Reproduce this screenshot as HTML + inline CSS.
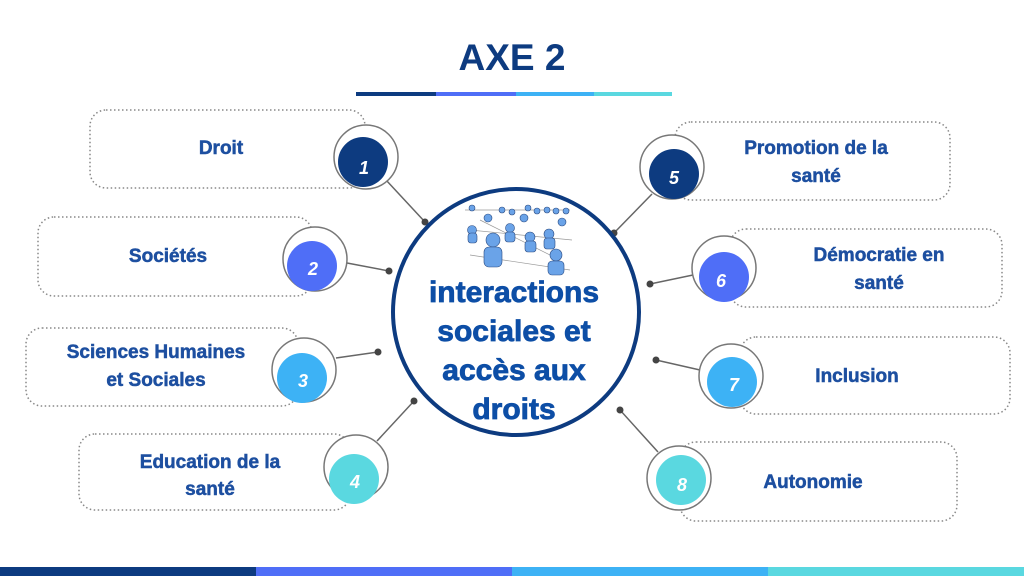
<!DOCTYPE html>
<html><head><meta charset="utf-8"><style>
html,body{margin:0;padding:0;background:#fff;}
svg{display:block;}
text{font-family:"Liberation Sans",sans-serif;font-weight:bold;}
</style></head><body>
<svg width="1024" height="576" viewBox="0 0 1024 576" xmlns="http://www.w3.org/2000/svg">
<text x="512" y="70" text-anchor="middle" font-size="37" fill="#0d3b80">AXE 2</text>
<rect x="356" y="92" width="80" height="4" fill="#0d3b80"/>
<rect x="436" y="92" width="80" height="4" fill="#4f6ef7"/>
<rect x="516" y="92" width="78" height="4" fill="#3db2f5"/>
<rect x="594" y="92" width="78" height="4" fill="#5ad8e0"/>
<rect x="0" y="567" width="256" height="9" fill="#0d3b80"/>
<rect x="256" y="567" width="256" height="9" fill="#4f6ef7"/>
<rect x="512" y="567" width="256" height="9" fill="#3db2f5"/>
<rect x="768" y="567" width="256" height="9" fill="#5ad8e0"/>
<g fill="none" stroke="#888" stroke-width="1.5" stroke-dasharray="1.5 2.5">
<rect x="90" y="110" width="275" height="78" rx="16"/>
<rect x="38" y="217" width="274" height="79" rx="16"/>
<rect x="26" y="328" width="272" height="78" rx="16"/>
<rect x="79" y="434" width="271" height="76" rx="16"/>
<rect x="675" y="122" width="275" height="78" rx="16"/>
<rect x="730" y="229" width="272" height="78" rx="16"/>
<rect x="740" y="337" width="270" height="77" rx="16"/>
<rect x="680" y="442" width="277" height="79" rx="16"/>
</g>
<g stroke="#666" stroke-width="1.5">
<line x1="386" y1="180" x2="425" y2="222"/>
<line x1="347" y1="263" x2="389" y2="271"/>
<line x1="336" y1="358" x2="378" y2="352"/>
<line x1="377" y1="441" x2="414" y2="401"/>
<line x1="614" y1="233" x2="652" y2="194"/>
<line x1="650" y1="284" x2="693" y2="275"/>
<line x1="656" y1="360" x2="700" y2="370"/>
<line x1="620" y1="410" x2="658" y2="452"/>
</g>
<g fill="#444">
<circle cx="425" cy="222" r="3.5"/><circle cx="389" cy="271" r="3.5"/><circle cx="378" cy="352" r="3.5"/><circle cx="414" cy="401" r="3.5"/>
<circle cx="614" cy="233" r="3.5"/><circle cx="650" cy="284" r="3.5"/><circle cx="656" cy="360" r="3.5"/><circle cx="620" cy="410" r="3.5"/>
</g>
<g stroke="#777" stroke-width="1.5" fill="#fff">
<circle cx="366" cy="157" r="32"/><circle cx="315" cy="259" r="32"/><circle cx="304" cy="370" r="32"/><circle cx="356" cy="467" r="32"/>
<circle cx="672" cy="167" r="32"/><circle cx="724" cy="268" r="32"/><circle cx="731" cy="376" r="32"/><circle cx="679" cy="478" r="32"/>
</g>
<circle cx="363" cy="162" r="25" fill="#0d3b80"/>
<circle cx="312" cy="266" r="25" fill="#4f6ef7"/>
<circle cx="302" cy="378" r="25" fill="#3db2f5"/>
<circle cx="354" cy="479" r="25" fill="#5ad8e0"/>
<circle cx="674" cy="174" r="25" fill="#0d3b80"/>
<circle cx="724" cy="277" r="25" fill="#4f6ef7"/>
<circle cx="732" cy="382" r="25" fill="#3db2f5"/>
<circle cx="681" cy="480" r="25" fill="#5ad8e0"/>
<g fill="#fff" font-size="18" font-style="italic" text-anchor="middle" style="font-family:'Liberation Serif',serif;font-weight:normal">
<text x="364" y="174">1</text><text x="313" y="275">2</text><text x="303" y="387">3</text><text x="355" y="488">4</text>
<text x="674" y="184">5</text><text x="721" y="287">6</text><text x="734" y="391">7</text><text x="682" y="491">8</text>
</g>
<g fill="#1d4fa0" stroke="#1d4fa0" stroke-width="0.5" font-size="19" text-anchor="middle">
<text x="221" y="154">Droit</text>
<text x="168" y="262">Sociétés</text>
<text x="156" y="358">Sciences Humaines</text><text x="156" y="386">et Sociales</text>
<text x="210" y="468">Education de la</text><text x="210" y="495">santé</text>
<text x="816" y="154">Promotion de la</text><text x="816" y="182">santé</text>
<text x="879" y="261">Démocratie en</text><text x="879" y="289">santé</text>
<text x="857" y="382">Inclusion</text>
<text x="813" y="488">Autonomie</text>
</g>
<circle cx="516" cy="312" r="123" fill="#fff" stroke="#0d3b80" stroke-width="4"/>
<g stroke="#999" stroke-width="0.7">
<line x1="465" y1="210" x2="570" y2="210"/><line x1="470" y1="230" x2="572" y2="240"/><line x1="470" y1="255" x2="570" y2="270"/><line x1="480" y1="220" x2="560" y2="260"/>
</g>
<g fill="#6aa3e8" stroke="#2a4a80" stroke-width="0.6">
<circle cx="472" cy="208" r="3"/><circle cx="502" cy="210" r="3"/><circle cx="512" cy="212" r="3"/><circle cx="528" cy="208" r="3"/><circle cx="537" cy="211" r="3"/><circle cx="547" cy="210" r="3"/><circle cx="556" cy="211" r="3"/><circle cx="566" cy="211" r="3"/>
<circle cx="488" cy="218" r="4"/><circle cx="524" cy="218" r="4"/><circle cx="562" cy="222" r="4"/><circle cx="510" cy="228" r="4.5"/><circle cx="472" cy="230" r="4.5"/><circle cx="530" cy="237" r="5"/><circle cx="549" cy="234" r="5"/>
<circle cx="493" cy="240" r="7"/><rect x="484" y="247" width="18" height="20" rx="5"/>
<circle cx="556" cy="255" r="6"/><rect x="548" y="261" width="16" height="14" rx="4"/>
<rect x="468" y="233" width="9" height="10" rx="3"/><rect x="505" y="232" width="10" height="10" rx="3"/><rect x="525" y="241" width="11" height="11" rx="3"/><rect x="544" y="238" width="11" height="11" rx="3"/>
</g>
<g fill="#0d4ea6" stroke="#0d4ea6" stroke-width="0.8" font-size="30" text-anchor="middle">
<text x="514" y="302">interactions</text>
<text x="514" y="341">sociales et</text>
<text x="514" y="380">accès aux</text>
<text x="514" y="419">droits</text>
</g>
</svg>
</body></html>
